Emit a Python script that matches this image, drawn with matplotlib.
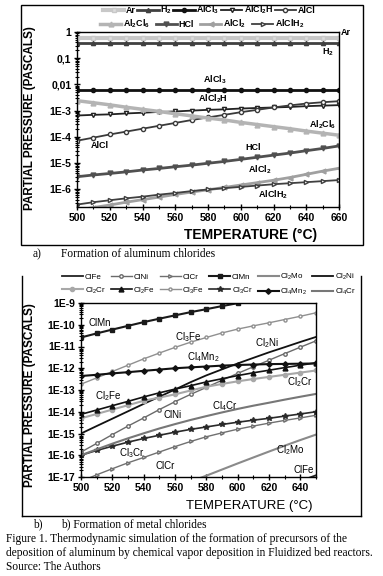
import numpy as np
import matplotlib
matplotlib.use("Agg")
import matplotlib.pyplot as plt
from matplotlib.lines import Line2D
from matplotlib.ticker import LogLocator, MultipleLocator, NullFormatter

plt.rcParams['font.family'] = ['Liberation Sans', 'DejaVu Sans']
plt.rcParams['mathtext.fontset'] = 'custom'
plt.rcParams['mathtext.rm'] = 'Liberation Sans'
plt.rcParams['mathtext.bf'] = 'Liberation Sans:bold'
plt.rcParams['mathtext.it'] = 'Liberation Sans:italic'

# ---- panel a : aluminium chlorides, 500..660 C ----
temp_a = [500, 510, 520, 530, 540, 550, 560, 570, 580, 590, 600, 610, 620, 630, 640, 650, 660]
ar = [0.59, 0.59, 0.59, 0.59, 0.59, 0.59, 0.59, 0.59, 0.59, 0.59, 0.59, 0.59, 0.59, 0.59, 0.59, 0.59, 0.59]
h2 = [0.39, 0.39, 0.39, 0.39, 0.39, 0.39, 0.39, 0.39, 0.39, 0.39, 0.39, 0.39, 0.39, 0.39, 0.39, 0.39, 0.39]
alcl3 = [6.1e-3, 6.1e-3, 6.1e-3, 6.1e-3, 6.1e-3, 6.1e-3, 6.1e-3, 6.1e-3, 6.1e-3, 6.1e-3, 6.1e-3, 6.1e-3,
         6.1e-3, 6.1e-3, 6.1e-3, 6.1e-3, 6.1e-3]
alcl2h = [6.5e-4, 6.9e-4, 7.2e-4, 7.8e-4, 8.3e-4, 8.9e-4, 9.3e-4, 1.0e-3, 1.07e-3, 1.12e-3, 1.2e-3, 1.26e-3,
          1.32e-3, 1.38e-3, 1.48e-3, 1.55e-3, 1.62e-3]
alcl = [7.1e-5, 9.3e-5, 1.23e-4, 1.58e-4, 2.04e-4, 2.63e-4, 3.39e-4, 4.37e-4, 5.5e-4, 6.9e-4, 8.7e-4, 1.07e-3,
        1.32e-3, 1.58e-3, 1.86e-3, 2.09e-3, 2.29e-3]
al2cl6 = [2.4e-3, 2.0e-3, 1.66e-3, 1.35e-3, 1.12e-3, 9.3e-4, 7.6e-4, 6.3e-4, 5.2e-4, 4.4e-4, 3.55e-4, 2.95e-4,
          2.45e-4, 2.04e-4, 1.66e-4, 1.38e-4, 1.15e-4]
hcl = [3.0e-6, 3.5e-6, 4.0e-6, 4.6e-6, 5.4e-6, 6.2e-6, 7.2e-6, 8.3e-6, 9.8e-6, 1.15e-5, 1.38e-5, 1.66e-5,
       2.0e-5, 2.4e-5, 2.95e-5, 3.6e-5, 4.5e-5]
alcl2 = [1.6e-7, 2.0e-7, 2.5e-7, 3.2e-7, 4.0e-7, 5.0e-7, 6.3e-7, 7.8e-7, 9.5e-7, 1.17e-6, 1.45e-6, 1.78e-6,
         2.2e-6, 2.8e-6, 3.7e-6, 4.9e-6, 6.3e-6]
alclh2 = [2.6e-7, 3.2e-7, 3.8e-7, 4.5e-7, 5.2e-7, 6.2e-7, 7.2e-7, 8.5e-7, 9.8e-7, 1.1e-6, 1.23e-6, 1.38e-6,
          1.55e-6, 1.7e-6, 1.86e-6, 2.04e-6, 2.24e-6]

# ---- panel b : metal chlorides, 500..650 C ----
temp_b = [500, 510, 520, 530, 540, 550, 560, 570, 580, 590, 600, 610, 620, 630, 640, 650]
clfe = [5.0e-22, 1.1e-21, 2.2e-21, 4.3e-21, 8.5e-21, 1.7e-20, 3.3e-20, 6.5e-20, 1.3e-19, 2.6e-19, 5.0e-19,
        9.8e-19, 1.9e-18, 3.6e-18, 6.6e-18, 1.2e-17]
clni = [1.4e-16, 3.5e-16, 8.9e-16, 2.2e-15, 5.2e-15, 1.26e-14, 2.9e-14, 6.3e-14, 1.32e-13, 2.8e-13, 5.8e-13,
        1.17e-12, 2.35e-12, 4.7e-12, 9.3e-12, 1.82e-11]
clcr = [6.3e-18, 1.26e-17, 2.4e-17, 4.5e-17, 7.9e-17, 1.41e-16, 2.5e-16, 4.3e-16, 7.1e-16, 1.07e-15, 1.58e-15,
        2.2e-15, 3.0e-15, 4.0e-15, 5.2e-15, 6.9e-15]
clmn = [2.6e-11, 4.0e-11, 6.0e-11, 8.9e-11, 1.32e-10, 1.9e-10, 2.7e-10, 3.8e-10, 5.2e-10, 7.2e-10, 9.8e-10,
        1.32e-9, 1.74e-9, 2.3e-9, 2.95e-9, 3.8e-9]
cl2mo = [7.9e-20, 1.5e-19, 2.8e-19, 5.1e-19, 9.5e-19, 1.8e-18, 3.3e-18, 6.2e-18, 1.15e-17, 2.2e-17, 4.2e-17,
         7.9e-17, 1.48e-16, 2.75e-16, 5.0e-16, 8.9e-16]
cl2ni = [1.0e-15, 2.2e-15, 4.8e-15, 1.05e-14, 2.3e-14, 4.9e-14, 1.05e-13, 2.3e-13, 4.7e-13, 8.9e-13, 1.66e-12,
         3.0e-12, 5.4e-12, 9.3e-12, 1.62e-11, 2.75e-11]
cl2cr = [5.0e-15, 7.9e-15, 1.26e-14, 2.0e-14, 3.2e-14, 4.5e-14, 6.3e-14, 9.5e-14, 1.41e-13, 1.9e-13, 2.5e-13,
         3.2e-13, 4.0e-13, 5.0e-13, 6.3e-13, 7.9e-13]
cl2fe = [7.6e-15, 1.2e-14, 1.9e-14, 3.0e-14, 4.8e-14, 7.4e-14, 1.1e-13, 1.58e-13, 2.35e-13, 3.3e-13, 4.6e-13,
         6.2e-13, 8.1e-13, 1.07e-12, 1.38e-12, 1.78e-12]
cl3fe = [1.86e-13, 3.6e-13, 7.1e-13, 1.38e-12, 2.7e-12, 5.0e-12, 9.1e-12, 1.58e-11, 2.6e-11, 4.2e-11, 6.3e-11,
         8.9e-11, 1.23e-10, 1.74e-10, 2.45e-10, 3.55e-10]
cl3cr = [1.0e-16, 1.66e-16, 2.6e-16, 4.0e-16, 5.9e-16, 8.3e-16, 1.15e-15, 1.55e-15, 2.0e-15, 2.6e-15, 3.3e-15,
         4.1e-15, 5.0e-15, 6.3e-15, 7.9e-15, 1.0e-14]
cl4mn2 = [4.4e-13, 5.0e-13, 5.8e-13, 6.6e-13, 7.6e-13, 8.7e-13, 1.0e-12, 1.1e-12, 1.2e-12, 1.32e-12, 1.41e-12,
          1.48e-12, 1.55e-12, 1.58e-12, 1.62e-12, 1.66e-12]
cl4cr = [1.0e-16, 1.86e-16, 3.4e-16, 6.0e-16, 1.02e-15, 1.7e-15, 2.7e-15, 4.2e-15, 6.3e-15, 9.3e-15, 1.35e-14,
         1.9e-14, 2.6e-14, 3.6e-14, 4.9e-14, 6.6e-14]

W, H = 383.0, 576.0


def fx(px):
    return px / W


def fy(py):
    return 1 - py / H


def style_axes(ax):
    for s in ax.spines.values():
        s.set_linewidth(1.0)
    ax.tick_params(which='major', direction='inout', length=4, width=1, pad=2)
    ax.tick_params(which='minor', direction='inout', length=2.5, width=0.8)
    ax.xaxis.set_minor_locator(MultipleLocator(10))
    ax.yaxis.set_minor_locator(LogLocator(base=10, subs=np.arange(2, 10), numticks=30))
    ax.yaxis.set_minor_formatter(NullFormatter())


fig = plt.figure(figsize=(3.83, 5.76), dpi=100)

# outer frames
fig.add_artist(plt.Rectangle((fx(21), fy(245)), fx(342), 240 / H, transform=fig.transFigure,
                             fill=False, lw=1.0, ec='black'))
for xs, ys in [([22, 22], [276, 516]), ([361, 361], [276, 516]), ([22, 361], [516, 516])]:
    fig.add_artist(Line2D([fx(x) for x in xs], [fy(y) for y in ys], transform=fig.transFigure,
                          color='black', lw=1.0))

# ================= panel a =================
ax1 = fig.add_axes([fx(77), fy(207), fx(262), 175 / H])
ax1.set_yscale('log')
ms = 3
lw = 1.3
la = {}
la['Ar'] = ax1.plot(temp_a, ar, color='#c8c8c8', lw=3, marker='s', ms=ms, mfc='#dddddd', mec='#c8c8c8')[0]
la['H$_\\mathbf{2}$'] = ax1.plot(temp_a, h2, color='#404040', lw=2, marker='^', ms=ms)[0]
la['AlCl$_\\mathbf{3}$'] = ax1.plot(temp_a, alcl3, color='#111111', lw=2, marker='o', ms=ms)[0]
la['AlCl$_\\mathbf{2}$H'] = ax1.plot(temp_a, alcl2h, color='#222222', lw=lw, marker='v', ms=ms,
                                     mfc='white')[0]
la['AlCl'] = ax1.plot(temp_a, alcl, color='#3a3a3a', lw=lw, marker='o', ms=ms, mfc='white')[0]
la['Al$_\\mathbf{2}$Cl$_\\mathbf{6}$'] = ax1.plot(temp_a, al2cl6, color='#b4b4b4', lw=2.5, marker='^',
                                                  ms=ms + 0.5)[0]
la['HCl'] = ax1.plot(temp_a, hcl, color='#505050', lw=2, marker='v', ms=ms + 0.5)[0]
la['AlCl$_\\mathbf{2}$'] = ax1.plot(temp_a, alcl2, color='#a0a0a0', lw=2, marker='<', ms=ms + 0.5)[0]
la['AlClH$_\\mathbf{2}$'] = ax1.plot(temp_a, alclh2, color='#404040', lw=lw, marker='>', ms=ms,
                                     mfc='white')[0]

ax1.set_xlim(500, 660)
ax1.set_ylim(2.1e-7, 1)
style_axes(ax1)
ax1.set_xticks(range(500, 661, 20))
yt_a = [1e-6, 1e-5, 1e-4, 1e-3, 1e-2, 1e-1, 1]
ax1.set_yticks(yt_a, labels=['1E-6', '1E-5', '1E-4', '1E-3', '0,01', '0,1', '1'])
for t in ax1.get_xticklabels() + ax1.get_yticklabels():
    t.set_fontsize(7.5)
    t.set_fontweight('bold')

ax1.set_xlabel('TEMPERATURE (°C)', fontsize=10, fontweight='bold')
ax1.xaxis.set_label_coords((251 - 77) / 262, -(228 - 207) / 175, transform=ax1.transAxes)
fig.text(fx(30), fy(118), 'PARTIAL PRESSURE (PASCALS)', rotation=90, ha='center', va='center',
         fontsize=8.5, fontweight='bold')

ann_a = [('Ar', 664.3, 0.92), ('H$_\\mathbf{2}$', 653.3, 0.172), ('AlCl$_\\mathbf{3}$', 584.3, 0.0147),
         ('AlCl$_\\mathbf{2}$H', 583.1, 2.77e-3), ('Al$_\\mathbf{2}$Cl$_\\mathbf{6}$', 650.2, 2.82e-4),
         ('AlCl', 514, 4.86e-5), ('HCl', 607.5, 4.07e-5), ('AlCl$_\\mathbf{2}$', 611.8, 5.4e-6),
         ('AlClH$_\\mathbf{2}$', 619.7, 6.0e-7)]
for txt, xt, yv in ann_a:
    ax1.text(xt, yv, txt, ha='center', va='center', fontsize=6.5, fontweight='bold', clip_on=False)

keys = list(la.keys())
fig.legend([la[k] for k in keys[:5]], keys[:5], loc='center', bbox_to_anchor=(fx(209), fy(10)),
           ncol=5, frameon=False, prop={'weight': 'bold', 'size': 6.4},
           handlelength=2.4, handletextpad=0.15, columnspacing=0.2, borderpad=0, borderaxespad=0)
fig.legend([la[k] for k in keys[5:]], keys[5:], loc='center', bbox_to_anchor=(fx(202), fy(24)),
           ncol=4, frameon=False, prop={'weight': 'bold', 'size': 6.4},
           handlelength=2.4, handletextpad=0.15, columnspacing=0.7, borderpad=0, borderaxespad=0)

# ================= panel b =================
ax2 = fig.add_axes([fx(81), fy(477), fx(235), 174 / H])
ax2.set_yscale('log')
lb = {}
lb['ClFe'] = ax2.plot(temp_b, clfe, color='#222222', lw=lw)[0]
lb['ClNi'] = ax2.plot(temp_b, clni, color='#6a6a6a', lw=1, marker='o', ms=2.5, mfc='white')[0]
lb['ClCr'] = ax2.plot(temp_b, clcr, color='#707070', lw=1, marker='>', ms=2.5, mfc='white')[0]
lb['ClMn'] = ax2.plot(temp_b, clmn, color='#1a1a1a', lw=1.5, marker='s', ms=3)[0]
lb['Cl$_2$Mo'] = ax2.plot(temp_b, cl2mo, color='#8a8a8a', lw=1.5)[0]
lb['Cl$_2$Ni'] = ax2.plot(temp_b, cl2ni, color='#111111', lw=lw)[0]
lb['Cl$_2$Cr'] = ax2.plot(temp_b, cl2cr, color='#a8a8a8', lw=1.5, marker='o', ms=3)[0]
lb['Cl$_2$Fe'] = ax2.plot(temp_b, cl2fe, color='#111111', lw=1.2, marker='^', ms=3.5)[0]
lb['Cl$_3$Fe'] = ax2.plot(temp_b, cl3fe, color='#909090', lw=1, marker='o', ms=2.2, mfc='white')[0]
lb['Cl$_3$Cr'] = ax2.plot(temp_b, cl3cr, color='#2a2a2a', lw=1.2, marker='*', ms=4)[0]
lb['Cl$_4$Mn$_2$'] = ax2.plot(temp_b, cl4mn2, color='#111111', lw=1.5, marker='D', ms=2.8)[0]
lb['Cl$_4$Cr'] = ax2.plot(temp_b, cl4cr, color='#777777', lw=1.5)[0]

ax2.set_xlim(500, 650)
ax2.set_ylim(1e-17, 1e-9)
style_axes(ax2)
ax2.set_xticks(range(500, 641, 20))
yt_b = [10.0 ** e for e in range(-17, -8)]
ax2.set_yticks(yt_b, labels=['1E-%d' % e for e in range(17, 8, -1)])
for t in ax2.get_xticklabels() + ax2.get_yticklabels():
    t.set_fontsize(7.5)
    t.set_fontweight('bold')

ax2.set_xlabel('TEMPERATURE (°C)', fontsize=9.5)
ax2.xaxis.set_label_coords((249 - 81) / 235, -(500 - 477) / 174, transform=ax2.transAxes)
fig.text(fx(30), fy(395), 'PARTIAL PRESSURE (PASCALS)', rotation=90, ha='center', va='center',
         fontsize=8.5, fontweight='bold')

ann_b = [('ClMn', 512.1, 10 ** -9.92), ('Cl$_3$Fe', 568.3, 10 ** -10.56), ('Cl$_2$Ni', 618.7, 10 ** -10.84),
         ('Cl$_4$Mn$_2$', 577.9, 10 ** -11.48), ('Cl$_2$Cr', 639.8, 10 ** -12.63),
         ('Cl$_2$Fe', 517.2, 10 ** -13.28), ('ClNi', 558.7, 10 ** -14.15), ('Cl$_4$Cr', 591.9, 10 ** -13.74),
         ('Cl$_3$Cr', 532.6, 10 ** -15.9), ('ClCr', 553.6, 10 ** -16.49), ('Cl$_2$Mo', 633.4, 10 ** -15.76),
         ('ClFe', 642.3, 10 ** -16.68)]
for txt, xt, yv in ann_b:
    ax2.text(xt, yv, txt, ha='center', va='center', fontsize=7)

kb = list(lb.keys())
order = [0, 6, 1, 7, 2, 8, 3, 9, 4, 10, 5, 11]
fig.legend([lb[kb[i]] for i in order], [kb[i] for i in order], loc='center',
           bbox_to_anchor=(fx(209), fy(284.5)), ncol=6, frameon=False, fontsize=5.8,
           handlelength=2.6, handletextpad=0.2, columnspacing=0.6, borderpad=0, borderaxespad=0,
           labelspacing=0.5)

# ================= captions =================
serif = ['Liberation Serif', 'DejaVu Serif']
fig.text(fx(33), fy(254), 'a)', family=serif, fontsize=8.3, va='center')
fig.text(fx(61), fy(254), 'Formation of aluminum chlorides', family=serif, fontsize=8.3, va='center')
fig.text(fx(33), fy(524), 'b)', family=serif, fontsize=8.3, va='center')
fig.text(fx(61), fy(524), 'b) Formation of metal chlorides', family=serif, fontsize=8.3, va='center')
fig.text(fx(6), fy(539), 'Figure 1. Thermodynamic simulation of the formation of precursors of the',
         family=serif, fontsize=8.3, va='center')
fig.text(fx(6), fy(553), 'deposition of aluminum by chemical vapor deposition in Fluidized bed reactors.',
         family=serif, fontsize=8.3, va='center')
fig.text(fx(6), fy(567), 'Source: The Authors', family=serif, fontsize=8.3, va='center')

fig.savefig('out.png', dpi=100)
